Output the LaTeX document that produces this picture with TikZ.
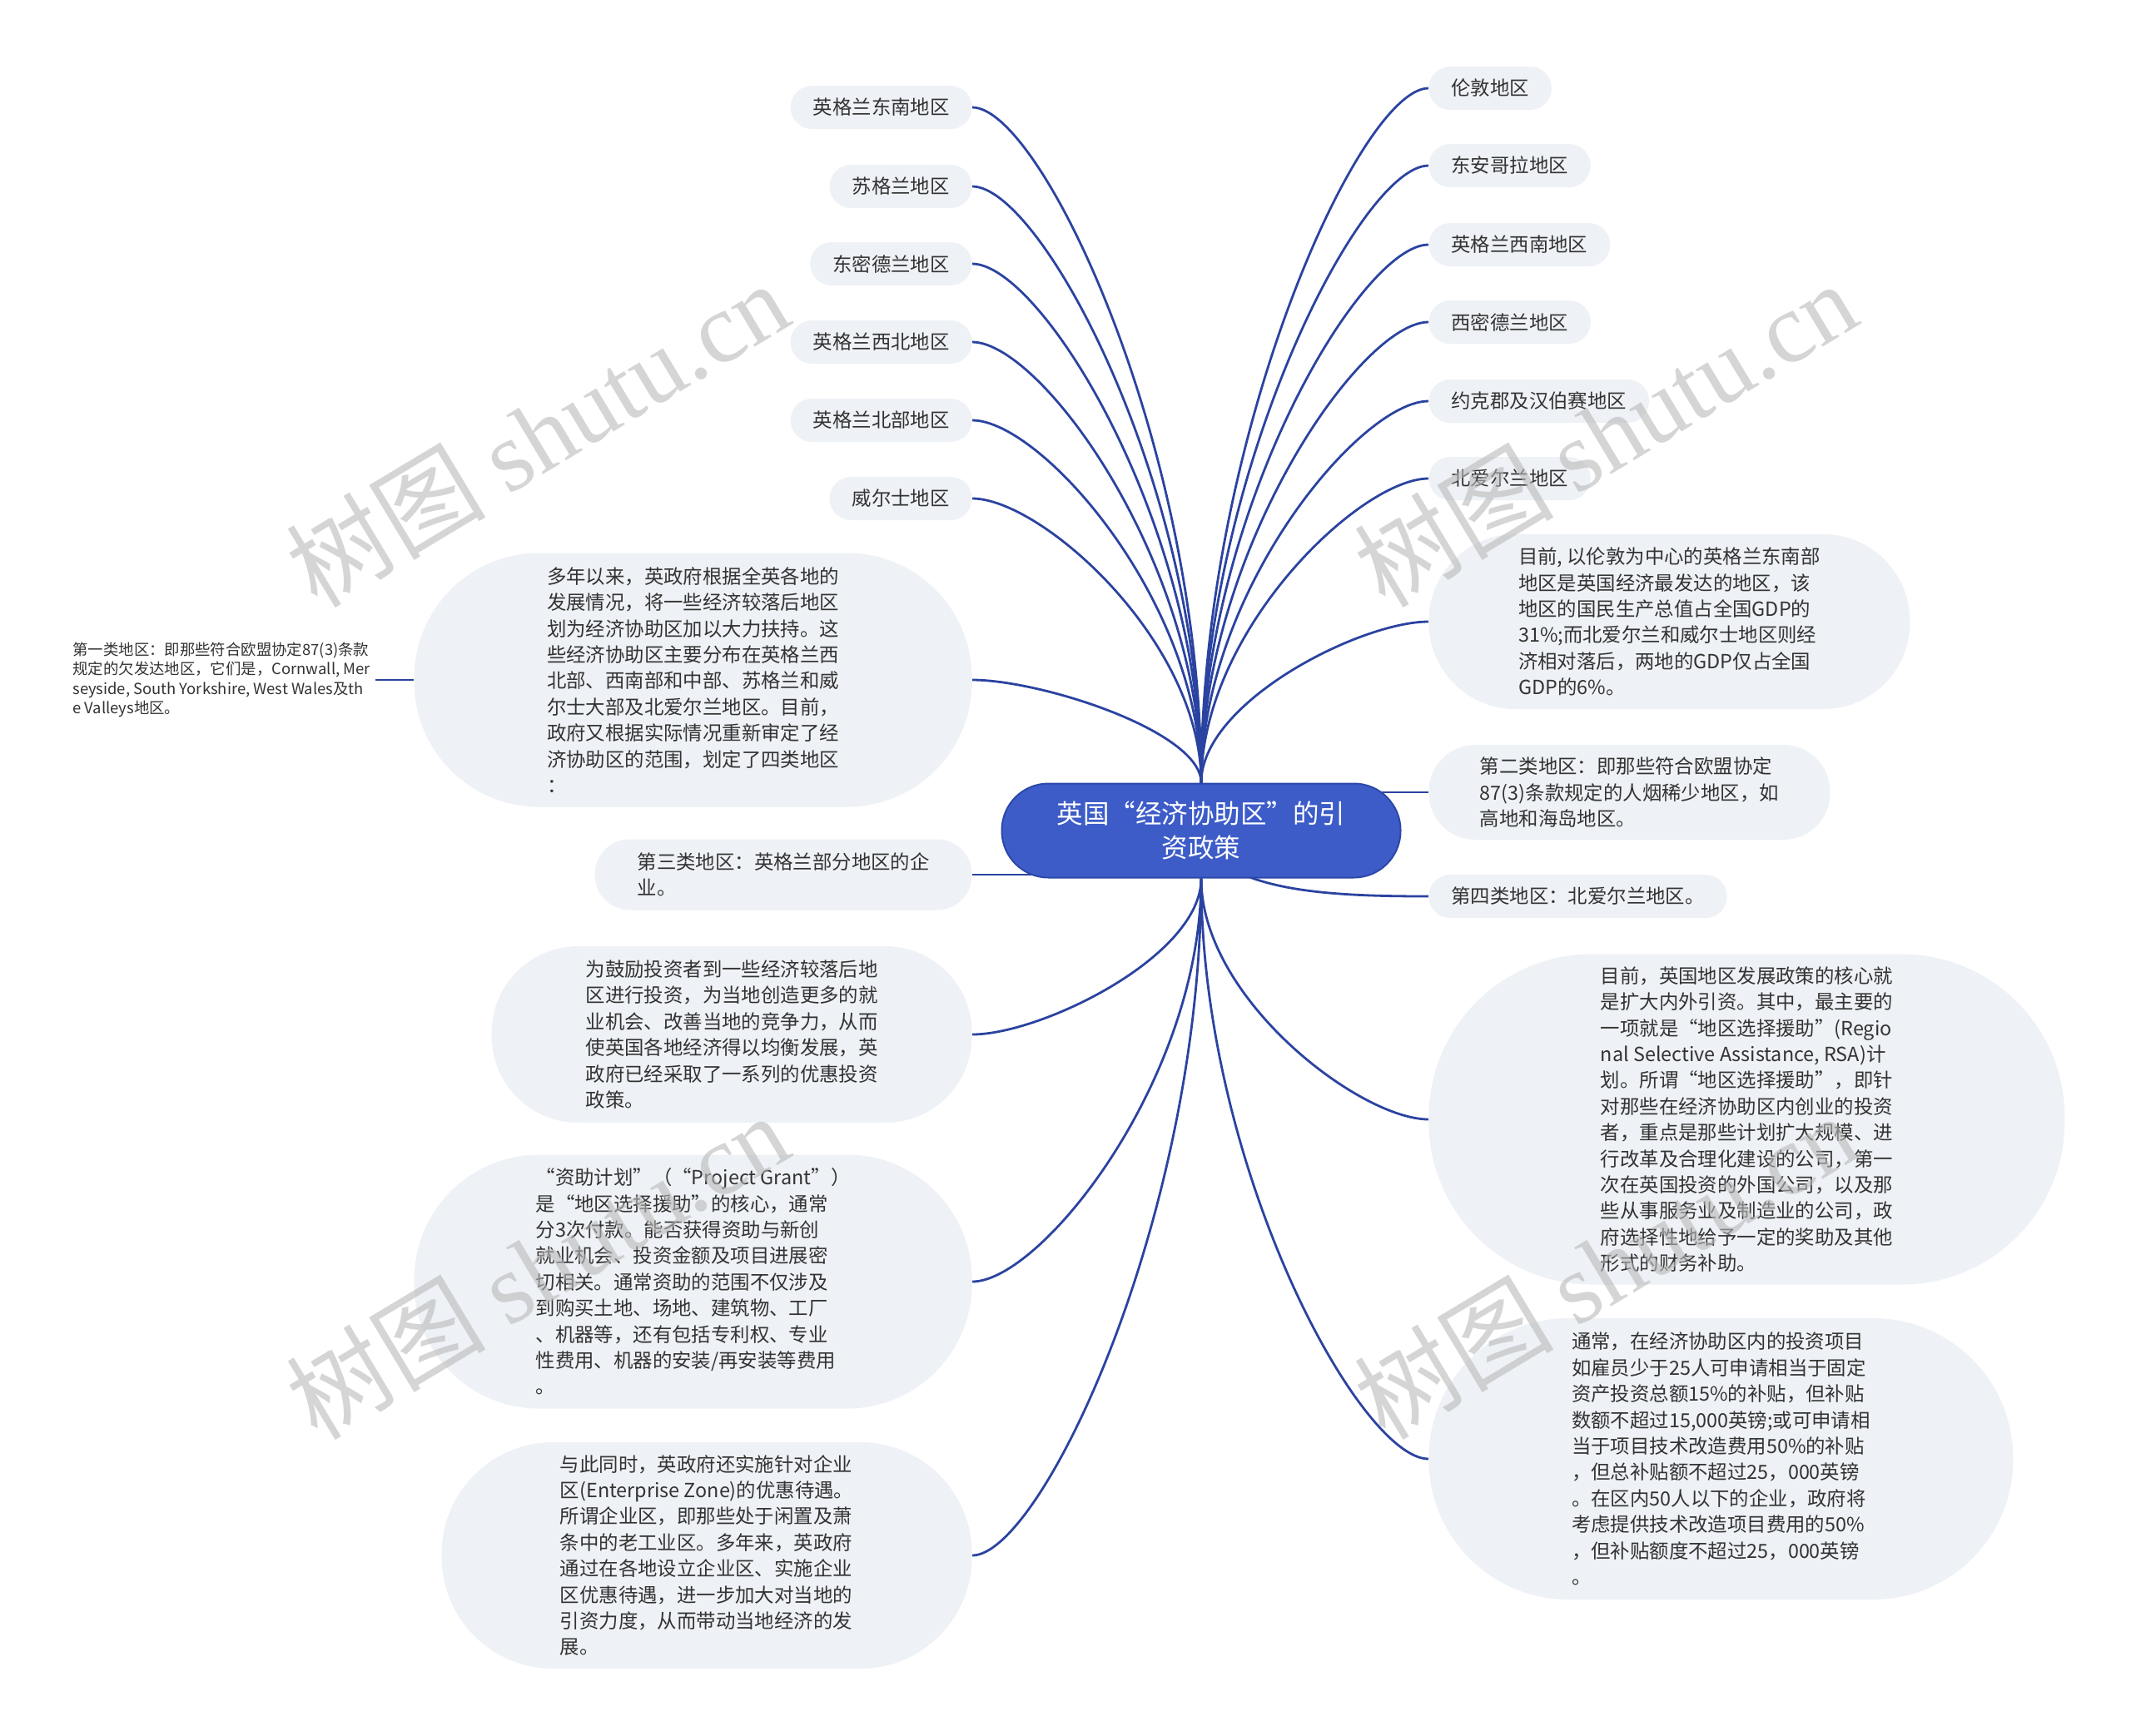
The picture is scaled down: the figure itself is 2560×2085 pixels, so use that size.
\documentclass[tikz,border=0pt]{standalone}
\usepackage{fontspec}
\setmainfont{Noto Sans CJK SC}
\newfontfamily\wmfont{Liberation Serif}
\usetikzlibrary{calc,backgrounds}
\definecolor{rootblue}{HTML}{3D5CC8}
\definecolor{rootedge}{HTML}{2C47A8}
\definecolor{linkblue}{HTML}{2B43A0}
\definecolor{bubblegray}{HTML}{EEF1F5}
\definecolor{ink}{HTML}{333333}

\begin{document}
\begin{tikzpicture}[x=0.5pt,y=-0.5pt,
  root/.style={fill=rootblue, draw=rootedge, line width=1pt, text=white, align=center,
    font=\fontsize{15.75}{20.4}\selectfont, minimum width=239.5pt, minimum height=56.5pt,
    rounded corners=28pt, inner sep=0pt},
  leaf/.style={fill=bubblegray, text=ink, rounded corners=12.9pt, minimum height=26pt,
    inner xsep=13.5pt, inner ysep=0pt, font=\fontsize{11.7}{15.7}\selectfont},
  bubble/.style={fill=bubblegray, text=ink, align=left, inner sep=0pt,
    font=\fontsize{11.7}{15.7}\selectfont},
  note/.style={text=ink, align=left, inner xsep=3pt, inner ysep=0pt,
    font=\fontsize{9.2}{11.7}\selectfont},
  branch/.style={draw=linkblue, line width=1.4pt},
  mark text/.style={text=gray!55, opacity=0.6, rotate=31, font=\fontsize{60}{60}\selectfont}]
\useasboundingbox (0,0) rectangle (2560,2085);
%
\node[root] (c) at (1443,998) {英国“经济协助区”的引\\资政策};
\coordinate (up) at (c.north);
\coordinate (down) at (c.south);
%
\node[leaf,anchor=east] (L1) at (1168,129) {英格兰东南地区};
\node[leaf,anchor=east] (L2) at (1168,224) {苏格兰地区};
\node[leaf,anchor=east] (L3) at (1168,317) {东密德兰地区};
\node[leaf,anchor=east] (L4) at (1168,411) {英格兰西北地区};
\node[leaf,anchor=east] (L5) at (1168,505) {英格兰北部地区};
\node[leaf,anchor=east] (L6) at (1168,599) {威尔士地区};
%
\node[bubble,anchor=east,minimum width=335pt,minimum height=152.5pt,rounded corners=75pt] (L7) at (1168,817)
  {多年以来，英政府根据全英各地的\\发展情况，将一些经济较落后地区\\划为经济协助区加以大力扶持。这\\些经济协助区主要分布在英格兰西\\北部、西南部和中部、苏格兰和威\\尔士大部及北爱尔兰地区。目前，\\政府又根据实际情况重新审定了经\\济协助区的范围，划定了四类地区\\：};
\node[note,anchor=west] (F) at (81,817)
  {第一类地区：即那些符合欧盟协定87(3)条款\\规定的欠发达地区，它们是，Cornwall, Mer\\seyside, South Yorkshire, West Wales及th\\e Valleys地区。};
\node[bubble,anchor=east,minimum width=226.5pt,minimum height=42.5pt,rounded corners=21pt] (L8) at (1168,1051)
  {第三类地区：英格兰部分地区的企\\业。};
\node[bubble,anchor=east,minimum width=288.5pt,minimum height=106pt,rounded corners=52pt] (L9) at (1168,1243)
  {为鼓励投资者到一些经济较落后地\\区进行投资，为当地创造更多的就\\业机会、改善当地的竞争力，从而\\使英国各地经济得以均衡发展，英\\政府已经采取了一系列的优惠投资\\政策。};
\node[bubble,anchor=east,minimum width=335pt,minimum height=152.5pt,rounded corners=75pt] (L10) at (1168,1540)
  {“资助计划”（“Project Grant”）\\是“地区选择援助”的核心，通常\\分3次付款。能否获得资助与新创\\就业机会、投资金额及项目进展密\\切相关。通常资助的范围不仅涉及\\到购买土地、场地、建筑物、工厂\\、机器等，还有包括专利权、专业\\性费用、机器的安装/再安装等费用\\。};
\node[bubble,anchor=east,minimum width=318.5pt,minimum height=136pt,rounded corners=67pt] (L11) at (1168,1869)
  {与此同时，英政府还实施针对企业\\区(Enterprise Zone)的优惠待遇。\\所谓企业区，即那些处于闲置及萧\\条中的老工业区。多年来，英政府\\通过在各地设立企业区、实施企业\\区优惠待遇，进一步加大对当地的\\引资力度，从而带动当地经济的发\\展。};
%
\node[leaf,anchor=west] (R1) at (1716,106) {伦敦地区};
\node[leaf,anchor=west] (R2) at (1716,199) {东安哥拉地区};
\node[leaf,anchor=west] (R3) at (1716,294) {英格兰西南地区};
\node[leaf,anchor=west] (R4) at (1716,387) {西密德兰地区};
\node[leaf,anchor=west] (R5) at (1716,482) {约克郡及汉伯赛地区};
\node[leaf,anchor=west] (R6) at (1716,575) {北爱尔兰地区};
%
\node[bubble,anchor=west,minimum width=289pt,minimum height=105pt,rounded corners=52pt] (R7) at (1716,747)
  {目前, 以伦敦为中心的英格兰东南部\\地区是英国经济最发达的地区，该\\地区的国民生产总值占全国GDP的\\31\%;而北爱尔兰和威尔士地区则经\\济相对落后，两地的GDP仅占全国\\GDP的6\%。};
\node[bubble,anchor=west,minimum width=241pt,minimum height=57pt,rounded corners=28pt] (R8) at (1716,952)
  {第二类地区：即那些符合欧盟协定\\87(3)条款规定的人烟稀少地区，如\\高地和海岛地区。};
\node[leaf,anchor=west] (R9) at (1716,1077) {第四类地区：北爱尔兰地区。};
\node[bubble,anchor=west,minimum width=382pt,minimum height=198.5pt,rounded corners=98pt] (R10) at (1716,1345)
  {目前，英国地区发展政策的核心就\\是扩大内外引资。其中，最主要的\\一项就是“地区选择援助”(Regio\\nal Selective Assistance, RSA)计\\划。所谓“地区选择援助”，即针\\对那些在经济协助区内创业的投资\\者，重点是那些计划扩大规模、进\\行改革及合理化建设的公司，第一\\次在英国投资的外国公司，以及那\\些从事服务业及制造业的公司，政\\府选择性地给予一定的奖助及其他\\形式的财务补助。};
\node[bubble,anchor=west,minimum width=351pt,minimum height=169pt,rounded corners=84pt] (R11) at (1716,1753)
  {通常，在经济协助区内的投资项目\\如雇员少于25人可申请相当于固定\\资产投资总额15\%的补贴，但补贴\\数额不超过15,000英镑;或可申请相\\当于项目技术改造费用50\%的补贴\\，但总补贴额不超过25，000英镑\\。在区内50人以下的企业，政府将\\考虑提供技术改造项目费用的50\%\\，但补贴额度不超过25，000英镑\\。};
%
\begin{scope}[on background layer]
\fill[white] (0,0) rectangle (2560,2085);
\draw[branch] (L1.east) .. controls ($(L1.east)!.3!(L1.east-|up)$) and ($(up)!.5!(up|-L1.east)$) .. (up);
\draw[branch] (L2.east) .. controls ($(L2.east)!.3!(L2.east-|up)$) and ($(up)!.5!(up|-L2.east)$) .. (up);
\draw[branch] (L3.east) .. controls ($(L3.east)!.3!(L3.east-|up)$) and ($(up)!.5!(up|-L3.east)$) .. (up);
\draw[branch] (L4.east) .. controls ($(L4.east)!.3!(L4.east-|up)$) and ($(up)!.5!(up|-L4.east)$) .. (up);
\draw[branch] (L5.east) .. controls ($(L5.east)!.3!(L5.east-|up)$) and ($(up)!.5!(up|-L5.east)$) .. (up);
\draw[branch] (L6.east) .. controls ($(L6.east)!.3!(L6.east-|up)$) and ($(up)!.5!(up|-L6.east)$) .. (up);
\draw[branch] (L7.east) .. controls ($(L7.east)!.3!(L7.east-|up)$) and ($(up)!.5!(up|-L7.east)$) .. (up);
\draw[branch] (R1.west) .. controls ($(R1.west)!.3!(R1.west-|up)$) and ($(up)!.5!(up|-R1.west)$) .. (up);
\draw[branch] (R2.west) .. controls ($(R2.west)!.3!(R2.west-|up)$) and ($(up)!.5!(up|-R2.west)$) .. (up);
\draw[branch] (R3.west) .. controls ($(R3.west)!.3!(R3.west-|up)$) and ($(up)!.5!(up|-R3.west)$) .. (up);
\draw[branch] (R4.west) .. controls ($(R4.west)!.3!(R4.west-|up)$) and ($(up)!.5!(up|-R4.west)$) .. (up);
\draw[branch] (R5.west) .. controls ($(R5.west)!.3!(R5.west-|up)$) and ($(up)!.5!(up|-R5.west)$) .. (up);
\draw[branch] (R6.west) .. controls ($(R6.west)!.3!(R6.west-|up)$) and ($(up)!.5!(up|-R6.west)$) .. (up);
\draw[branch] (R7.west) .. controls ($(R7.west)!.3!(R7.west-|up)$) and ($(up)!.5!(up|-R7.west)$) .. (up);
%
\draw[branch] (L9.east) .. controls ($(L9.east)!.3!(L9.east-|down)$) and ($(down)!.5!(down|-L9.east)$) .. (down);
\draw[branch] (L10.east) .. controls ($(L10.east)!.3!(L10.east-|down)$) and ($(down)!.5!(down|-L10.east)$) .. (down);
\draw[branch] (L11.east) .. controls ($(L11.east)!.3!(L11.east-|down)$) and ($(down)!.5!(down|-L11.east)$) .. (down);
\draw[branch] (R10.west) .. controls ($(R10.west)!.3!(R10.west-|down)$) and ($(down)!.5!(down|-R10.west)$) .. (down);
\draw[branch] (R11.west) .. controls ($(R11.west)!.3!(R11.west-|down)$) and ($(down)!.5!(down|-R11.west)$) .. (down);
%
\draw[branch] (L8.east) -- (L8.east-|c.center);
\draw[branch] (R8.west) -- (R8.west-|c.center);
\draw[branch] ($(c.south)+(52,-4)$) .. controls ($(c.south)+(105,18)$) and ($(R9.west)+(-90,0)$) .. (R9.west);
\draw[branch] (F.east) -- (L7.west);
\end{scope}
%
\node[mark text] (w1) at (645,521) {树图 {\wmfont shutu.cn}};
\node[mark text] (w2) at (1928,521) {树图 {\wmfont shutu.cn}};
\node[mark text] (w3) at (645,1521) {树图 {\wmfont shutu.cn}};
\node[mark text] (w4) at (1928,1521) {树图 {\wmfont shutu.cn}};
\end{tikzpicture}
\end{document}
